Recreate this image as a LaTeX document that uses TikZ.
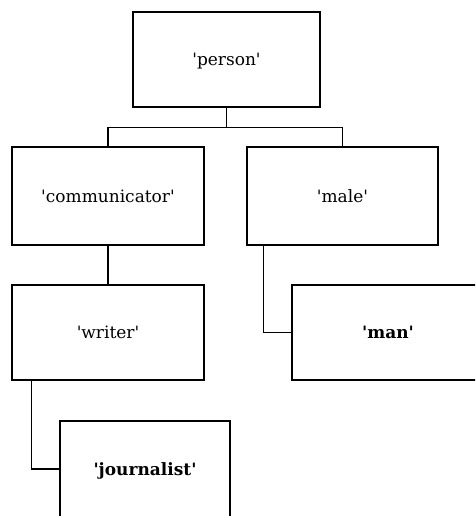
\documentclass[tikz,border=0pt]{standalone}
\usepackage{fontspec}
\setmainfont{DejaVu Serif}
\usetikzlibrary{calc}

\newcommand{\qw}[1]{\textquotesingle#1\textquotesingle}

\begin{document}
\begin{tikzpicture}[x=1pt,y=-1pt,
    wordbox/.style={draw,line width=1.2pt,rectangle,inner sep=0pt,text depth=-3pt,
      font=\fontsize{17}{20}\selectfont},
    link/.style={line width=1.2pt}]
  \clip (0,0) rectangle (475,516);
  \node[wordbox,minimum width=187pt,minimum height=95pt] (person) at (226.5,59.5) {\qw{person}};
  \node[wordbox,minimum width=192pt,minimum height=98pt] (communicator) at (108,196) {\qw{communicator}};
  \node[wordbox,minimum width=191pt,minimum height=98pt] (male) at (342.5,196) {\qw{male}};
  \node[wordbox,minimum width=192pt,minimum height=95pt] (writer) at (108,332.5) {\qw{writer}};
  \node[wordbox,minimum width=192pt,minimum height=95pt] (man) at (388,332.5) {\bfseries\qw{man}};
  \node[wordbox,minimum width=170pt,minimum height=96pt] (journalist) at (145,469) {\bfseries\qw{journalist}};
  \draw[link] (person.south) -- ++(0,20) coordinate (split);
  \draw[link] (communicator.north) |- (split) -| (male.north);
  \draw[link] (communicator.south) -- (writer.north);
  \draw[link] ($(male.south west)+(17,0)$) |- (man.west);
  \draw[link] ($(writer.south west)+(20,0)$) |- (journalist.west);
\end{tikzpicture}
\end{document}
